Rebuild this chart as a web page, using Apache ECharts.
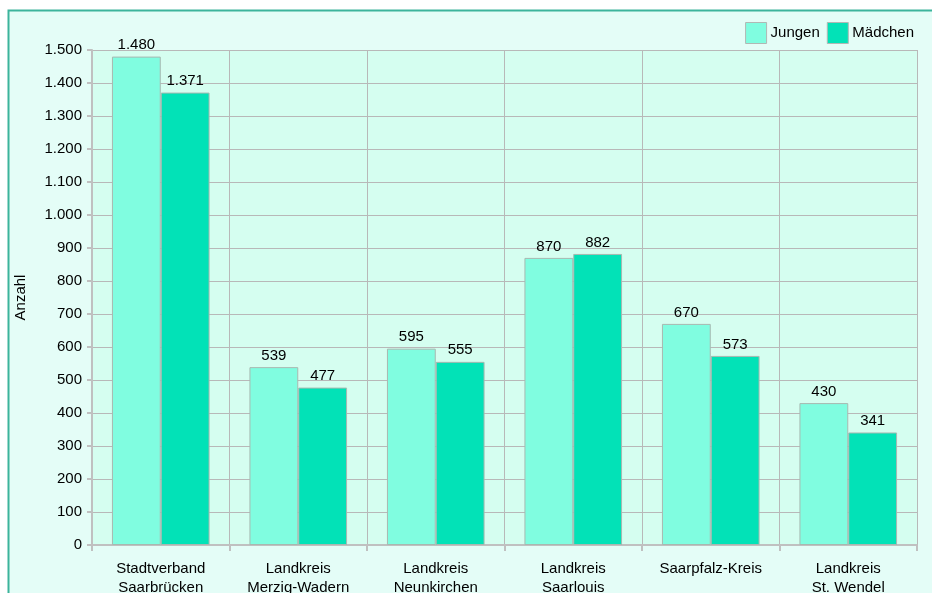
<!DOCTYPE html>
<html><head><meta charset="utf-8">
<script src="https://cdn.jsdelivr.net/npm/echarts@6/dist/echarts.min.js"></script>
<style>html,body{margin:0;padding:0;background:#fff;}#c{width:932px;height:593px;}</style>
</head><body><div id="c"></div>
<script>
const categories = ['Stadtverband\nSaarbrücken','Landkreis\nMerzig-Wadern','Landkreis\nNeunkirchen','Landkreis\nSaarlouis','Saarpfalz-Kreis','Landkreis\nSt. Wendel'];
const jungen = [1480, 539, 595, 870, 670, 430];
const maedchen = [1371, 477, 555, 882, 573, 341];
const seriesNames = ['Jungen','Mädchen'];

function de(v){return String(v).replace(/\B(?=(\d{3})+(?!\d))/g,'.');}
const font = 'Liberation Sans, Arial, sans-serif';
const chart = echarts.init(document.getElementById('c'));
chart.setOption({
  animation:false,
  textStyle:{fontFamily:font},
  graphic:[{type:'rect',z:-10,shape:{x:8.5,y:10.5,width:940,height:600},style:{fill:'#e4fdf7',stroke:'#3cb49c',lineWidth:2}}],
  legend:{right:13,top:17,itemWidth:21,itemHeight:21,itemGap:7,icon:'rect',
    textStyle:{fontSize:15,color:'#000',fontFamily:font,padding:[0,0,0,-1]},
    itemStyle:{borderColor:'#b0b8b4',borderWidth:1},
    data:seriesNames},
  grid:{left:92,right:15,top:50,bottom:48,show:true,backgroundColor:'#d5fef0',borderWidth:0,containLabel:false,outerBoundsMode:'none'},
  xAxis:{type:'category',data:categories,
    axisLine:{lineStyle:{color:'#c0c0c0',width:2}},
    axisTick:{show:true,length:6,lineStyle:{color:'#c0c0c0',width:2}},
    splitLine:{show:true,lineStyle:{color:'#b8b8b8',width:1}},
    axisLabel:{color:'#000',fontSize:15,margin:14,lineHeight:19,fontFamily:font}},
  yAxis:{type:'value',min:0,max:1500,interval:100,name:'Anzahl',nameLocation:'middle',nameGap:64,
    nameTextStyle:{color:'#000',fontSize:15,fontFamily:font},
    axisLine:{show:true,lineStyle:{color:'#c0c0c0',width:2}},
    axisTick:{show:true,length:5,lineStyle:{color:'#c0c0c0',width:2}},
    splitLine:{lineStyle:{color:'#b8b8b8',width:1}},
    axisLabel:{color:'#000',fontSize:15,margin:10,formatter:de,fontFamily:font}},
  series:[
    {name:seriesNames[0],type:'bar',data:jungen,barGap:'0%',barCategoryGap:'29%',
      itemStyle:{color:'#80fde0',borderColor:'#a8b8b0',borderWidth:1},
      label:{show:true,position:'top',color:'#000',fontSize:15,distance:4,formatter:p=>de(p.value),fontFamily:font}},
    {name:seriesNames[1],type:'bar',data:maedchen,
      itemStyle:{color:'#02e2b7',borderColor:'#a8b8b0',borderWidth:1},
      label:{show:true,position:'top',color:'#000',fontSize:15,distance:4,formatter:p=>de(p.value),fontFamily:font}}
  ]
});
</script></body></html>
